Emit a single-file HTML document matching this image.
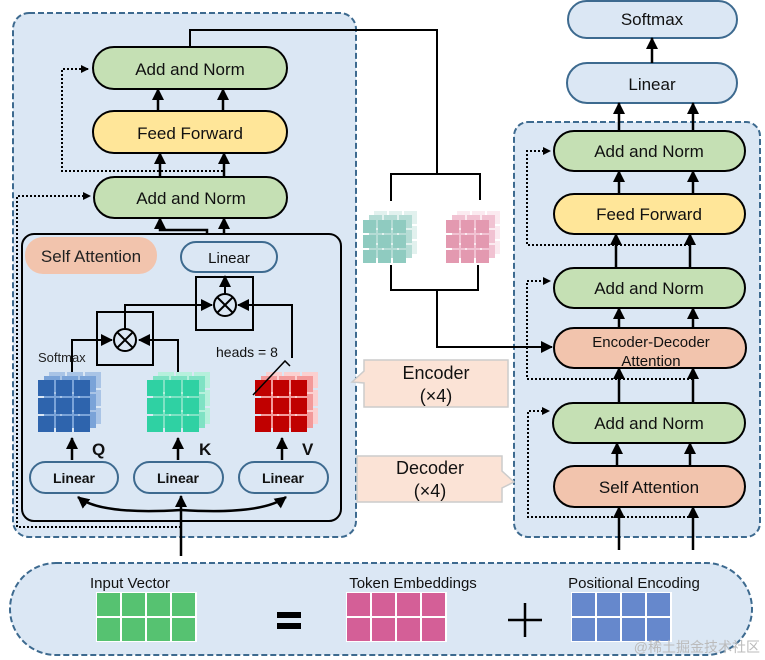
<!DOCTYPE html>
<html><head><meta charset="utf-8"><style>
body{margin:0;background:#fff}
svg{display:block;font-family:"Liberation Sans","Noto Sans CJK SC",sans-serif}
</style></head><body>
<svg width="765" height="660" viewBox="0 0 765 660" xmlns="http://www.w3.org/2000/svg">
<defs>
<marker id="ah" markerWidth="8" markerHeight="8" refX="7" refY="4" orient="auto" markerUnits="userSpaceOnUse" viewBox="0 0 8 8"><path d="M0,0 L8,4 L0,8 z" fill="#000"/></marker>
<marker id="ab" markerWidth="12" markerHeight="12" refX="11" refY="6" orient="auto" markerUnits="userSpaceOnUse" viewBox="0 0 12 12"><path d="M0,0 L12,6 L0,12 z" fill="#000"/></marker>
<g id="g3">
<rect x="0" y="0" width="16" height="16"/><rect x="18" y="0" width="16" height="16"/><rect x="36" y="0" width="16" height="16"/>
<rect x="0" y="18" width="16" height="16"/><rect x="18" y="18" width="16" height="16"/><rect x="36" y="18" width="16" height="16"/>
<rect x="0" y="36" width="16" height="16"/><rect x="18" y="36" width="16" height="16"/><rect x="36" y="36" width="16" height="16"/>
</g>
<g id="g3s">
<rect x="0" y="0" width="13" height="13"/><rect x="15" y="0" width="13" height="13"/><rect x="30" y="0" width="13" height="13"/>
<rect x="0" y="15" width="13" height="13"/><rect x="15" y="15" width="13" height="13"/><rect x="30" y="15" width="13" height="13"/>
<rect x="0" y="30" width="13" height="13"/><rect x="15" y="30" width="13" height="13"/><rect x="30" y="30" width="13" height="13"/>
</g>
<g id="g4">
<rect x="0" y="0" width="23" height="23"/><rect x="25" y="0" width="23" height="23"/><rect x="50" y="0" width="23" height="23"/><rect x="75" y="0" width="23" height="23"/>
<rect x="0" y="25" width="23" height="23"/><rect x="25" y="25" width="23" height="23"/><rect x="50" y="25" width="23" height="23"/><rect x="75" y="25" width="23" height="23"/>
</g>
</defs>

<rect x="13" y="13" width="343" height="524" rx="16" fill="#dbe7f4" stroke="#3d6a8f" stroke-width="2" stroke-dasharray="6,3"/>
<rect x="514" y="122" width="246" height="415" rx="14" fill="#dbe7f4" stroke="#3d6a8f" stroke-width="2" stroke-dasharray="6,3"/>
<rect x="10" y="563" width="742" height="92" rx="46" fill="#dbe7f4" stroke="#3d6a8f" stroke-width="2" stroke-dasharray="6,3"/>

<g stroke="#000" stroke-width="2" font-size="17" text-anchor="middle">
<rect x="93" y="47" width="194" height="42" rx="21" fill="#c5e0b4"/>
<rect x="93" y="111" width="194" height="42" rx="21" fill="#ffe699"/>
<rect x="94" y="177" width="193" height="41" rx="20.5" fill="#c5e0b4"/>
</g>
<g font-size="17" text-anchor="middle" fill="#111">
<text x="190" y="75">Add and Norm</text>
<text x="190" y="139">Feed Forward</text>
<text x="191" y="204">Add and Norm</text>
</g>
<g stroke="#000" stroke-width="2.5" fill="none" marker-end="url(#ab)">
<line x1="158" y1="111" x2="158" y2="89"/><line x1="223" y1="111" x2="223" y2="89"/>
<line x1="160" y1="177" x2="160" y2="153"/><line x1="224" y1="177" x2="224" y2="153"/>
<path d="M207,242 L207,230 L160,230 L160,218"/><line x1="224" y1="242" x2="224" y2="218"/>
</g>
<g stroke="#000" stroke-width="2" fill="none" stroke-dasharray="2,2">
<path d="M223,171 L62,171 L62,69 L88,69" marker-end="url(#ah)"/>
<path d="M181,527 L17,527 L17,196 L90,196" marker-end="url(#ah)"/>
</g>

<rect x="22" y="234" width="319" height="287" rx="12" fill="#dbe7f4" stroke="#000" stroke-width="2"/>
<rect x="25" y="237" width="132" height="37" rx="18" fill="#f2c4ad"/>
<text x="91" y="262" font-size="17" text-anchor="middle" fill="#222">Self Attention</text>
<rect x="181" y="242" width="96" height="30" rx="15" fill="#dbe7f4" stroke="#3d6a8f" stroke-width="2"/>
<text x="229" y="263" font-size="15" text-anchor="middle" fill="#111">Linear</text>

<rect x="196" y="277" width="57" height="53" fill="none" stroke="#000" stroke-width="2"/>
<circle cx="225" cy="305" r="11" fill="none" stroke="#000" stroke-width="2"/>
<path d="M217,297 L233,313 M233,297 L217,313" stroke="#000" stroke-width="2"/>
<rect x="97" y="312" width="56" height="53" fill="none" stroke="#000" stroke-width="2"/>
<circle cx="125" cy="340" r="11" fill="none" stroke="#000" stroke-width="2"/>
<path d="M117,332 L133,348 M133,332 L117,348" stroke="#000" stroke-width="2"/>
<g stroke="#000" stroke-width="2" fill="none">
<line x1="225" y1="294" x2="225" y2="276" marker-end="url(#ab)"/>
<path d="M125,329 L125,305 L212,305" marker-end="url(#ab)"/>
<path d="M292,358 L292,305 L238,305" marker-end="url(#ab)"/>
<path d="M72,378 L72,340 L112,340" marker-end="url(#ab)"/>
<path d="M178,377 L178,340 L139,340" marker-end="url(#ab)"/>
</g>
<text x="38" y="362" font-size="13" fill="#222">Softmax</text>
<text x="216" y="357" font-size="14" fill="#111">heads = 8</text>

<use href="#g3" x="49" y="372" fill="#a9c4e6"/>
<use href="#g3" x="44" y="376" fill="#7aa3d8"/>
<use href="#g3" x="38" y="380" fill="#2e64ad"/>
<use href="#g3" x="158" y="372" fill="#b6f0dc"/>
<use href="#g3" x="153" y="376" fill="#7fe2c4"/>
<use href="#g3" x="147" y="380" fill="#2fd1a3"/>
<use href="#g3" x="266" y="372" fill="#fbd0d0"/>
<use href="#g3" x="261" y="376" fill="#f39a9a"/>
<use href="#g3" x="255" y="380" fill="#c00000"/>
<path d="M290,366 L285,361 L253,395" stroke="#000" stroke-width="1.5" fill="none"/>
<g font-size="17" font-weight="bold" fill="#111">
<text x="92" y="455">Q</text><text x="199" y="455">K</text><text x="302" y="455">V</text>
</g>
<g stroke="#000" stroke-width="2.5" marker-end="url(#ab)">
<line x1="72" y1="460" x2="72" y2="438"/><line x1="178" y1="460" x2="178" y2="438"/><line x1="282" y1="460" x2="282" y2="438"/>
</g>
<g stroke="#3d6a8f" stroke-width="2" fill="#dbe7f4">
<rect x="30" y="462" width="88" height="31" rx="15.5"/>
<rect x="134" y="462" width="89" height="31" rx="15.5"/>
<rect x="239" y="462" width="89" height="31" rx="15.5"/>
</g>
<g font-size="14" font-weight="bold" text-anchor="middle" fill="#111">
<text x="74" y="483">Linear</text><text x="178" y="483">Linear</text><text x="283" y="483">Linear</text>
</g>
<g stroke="#000" stroke-width="2.5" fill="none">
<path d="M181,510 Q100,515 78,497" marker-end="url(#ab)"/>
<path d="M181,510 Q262,515 286,497" marker-end="url(#ab)"/>
<line x1="181" y1="556" x2="181" y2="496" marker-end="url(#ab)"/>
</g>

<g stroke="#000" stroke-width="2" fill="none">
<path d="M190,47 L190,30 L437,30 L437,174"/>
<path d="M391,201 L391,174 L480,174 L480,200"/>
<path d="M391,265 L391,290 L478,290 L478,265"/>
<path d="M437,290 L437,347 L552,347" marker-end="url(#ab)"/>
</g>
<use href="#g3s" x="374" y="211" fill="#e2f1ee"/>
<use href="#g3s" x="369" y="215" fill="#b5dcd5"/>
<use href="#g3s" x="363" y="220" fill="#8fcbc0"/>
<use href="#g3s" x="457" y="211" fill="#fbeaf0"/>
<use href="#g3s" x="452" y="215" fill="#f1c2d2"/>
<use href="#g3s" x="446" y="220" fill="#e399b0"/>

<path d="M364,360 L508,360 L508,407 L364,407 L364,383 L352,382 L364,371 Z" fill="#fbe3d6" stroke="#ccc" stroke-width="1.5"/>
<text x="436" y="379" font-size="18" text-anchor="middle" fill="#111">Encoder</text>
<text x="436" y="402" font-size="18" text-anchor="middle" fill="#111">(×4)</text>
<path d="M357,456 L502,456 L502,471 L514,482 L502,488 L502,502 L357,502 Z" fill="#fbe3d6" stroke="#ccc" stroke-width="1.5"/>
<text x="430" y="474" font-size="18" text-anchor="middle" fill="#111">Decoder</text>
<text x="430" y="497" font-size="18" text-anchor="middle" fill="#111">(×4)</text>

<g stroke="#3d6a8f" stroke-width="2" fill="#dbe7f4">
<rect x="568" y="1" width="169" height="37" rx="18.5"/>
<rect x="567" y="63" width="170" height="40" rx="20"/>
</g>
<g font-size="17" text-anchor="middle" fill="#111">
<text x="652" y="25">Softmax</text><text x="652" y="90">Linear</text>
</g>

<g stroke="#000" stroke-width="2">
<rect x="554" y="131" width="191" height="40" rx="20" fill="#c5e0b4"/>
<rect x="554" y="194" width="191" height="40" rx="20" fill="#ffe699"/>
<rect x="554" y="268" width="191" height="40" rx="20" fill="#c5e0b4"/>
<rect x="554" y="328" width="192" height="40" rx="20" fill="#f2c4ad"/>
<rect x="553" y="403" width="192" height="40" rx="20" fill="#c5e0b4"/>
<rect x="554" y="466" width="191" height="41" rx="20.5" fill="#f2c4ad"/>
</g>
<g font-size="17" text-anchor="middle" fill="#111">
<text x="649" y="157">Add and Norm</text>
<text x="649" y="220">Feed Forward</text>
<text x="649" y="294">Add and Norm</text>
<text x="651" y="347" font-size="15">Encoder-Decoder</text>
<text x="651" y="366" font-size="15">Attention</text>
<text x="649" y="429">Add and Norm</text>
<text x="649" y="493">Self Attention</text>
</g>
<g stroke="#000" stroke-width="2.5" marker-end="url(#ab)">
<line x1="619" y1="131" x2="619" y2="103"/><line x1="693" y1="131" x2="693" y2="103"/>
<line x1="652" y1="63" x2="652" y2="38"/>
<line x1="619" y1="194" x2="619" y2="171"/><line x1="693" y1="194" x2="693" y2="171"/>
<line x1="616" y1="268" x2="616" y2="234"/><line x1="690" y1="268" x2="690" y2="234"/>
<line x1="619" y1="328" x2="619" y2="308"/><line x1="693" y1="328" x2="693" y2="308"/>
<line x1="619" y1="403" x2="619" y2="368"/><line x1="693" y1="403" x2="693" y2="368"/>
<line x1="617" y1="466" x2="617" y2="443"/><line x1="690" y1="466" x2="690" y2="443"/>
<line x1="619" y1="550" x2="619" y2="507"/><line x1="693" y1="550" x2="693" y2="507"/>
</g>
<g stroke="#000" stroke-width="2" fill="none" stroke-dasharray="2,2">
<path d="M690,245 L527,245 L527,151 L550,151" marker-end="url(#ah)"/>
<path d="M693,379 L527,379 L527,281 L550,281" marker-end="url(#ah)"/>
<path d="M693,517 L528,517 L528,411 L549,411" marker-end="url(#ah)"/>
</g>

<g font-size="15" text-anchor="middle" fill="#111">
<text x="130" y="588">Input Vector</text>
<text x="413" y="588">Token Embeddings</text>
<text x="634" y="588">Positional Encoding</text>
</g>
<rect x="96" y="592" width="101" height="50" fill="#fff"/>
<use href="#g4" x="97" y="593" fill="#56c271"/>
<rect x="346" y="592" width="101" height="50" fill="#fff"/>
<use href="#g4" x="347" y="593" fill="#d45f97"/>
<rect x="571" y="592" width="101" height="50" fill="#fff"/>
<use href="#g4" x="572" y="593" fill="#6688cc"/>
<rect x="277" y="612" width="24" height="6" fill="#000"/>
<rect x="277" y="623" width="24" height="6" fill="#000"/>
<path d="M508,620 L542,620 M525,603 L525,637" stroke="#000" stroke-width="2.5"/>
<text x="760" y="652" font-size="14" text-anchor="end" fill="#bbb">@稀土掘金技术社区</text>
</svg>
</body></html>
